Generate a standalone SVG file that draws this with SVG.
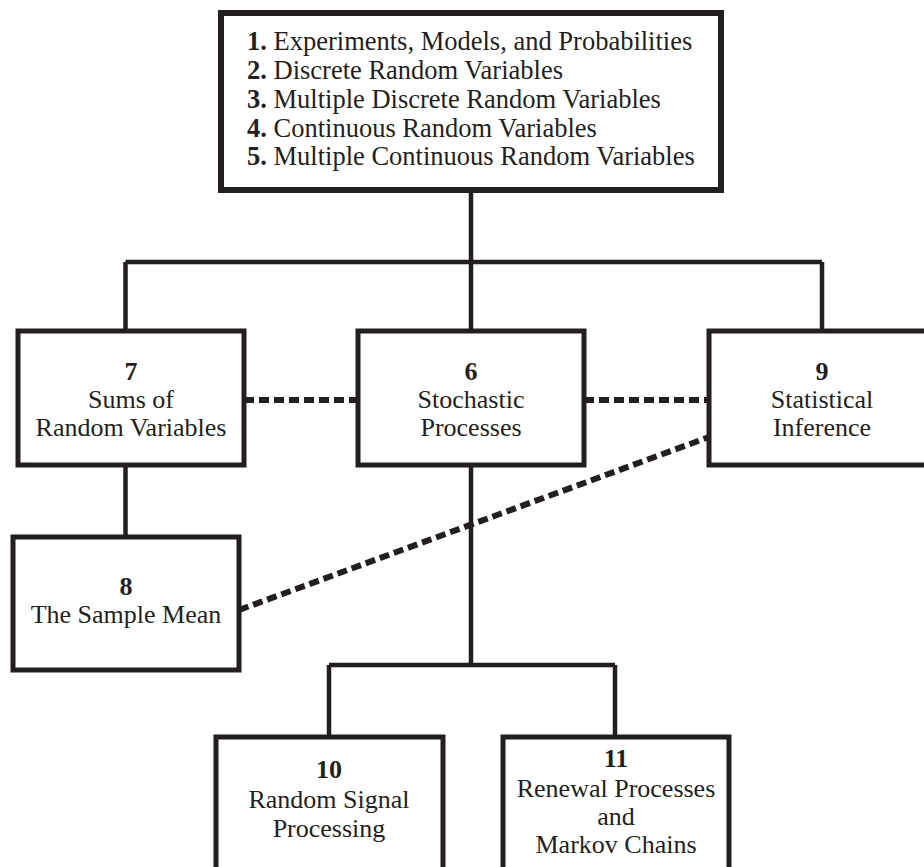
<svg xmlns="http://www.w3.org/2000/svg" width="924" height="867" viewBox="0 0 924 867">
<style>
.box{fill:#fff;stroke:#231f20;stroke-width:5}
.ln{fill:none;stroke:#231f20;stroke-width:4.5}
.dash{fill:none;stroke:#231f20;stroke-width:6;stroke-dasharray:10 5}
text{font-family:"Liberation Serif","Times New Roman",serif;font-size:26px;fill:#231f20}
.c{text-anchor:middle}
.b{font-weight:bold}
</style>
<rect width="924" height="867" fill="#fff"/>
<g id="connectors">
<path class="ln" d="M471 190V262M125.5 262H822M125.5 262V331M471 262V331M822 262V331"/>
<path class="ln" d="M125.5 465V537"/>
<path class="ln" d="M471 465V665M329 665H615M329 665V737M615 665V737"/>
<path class="dash" d="M244 400H358"/>
<path class="dash" d="M584 400H709"/>
<path class="dash" d="M239 610L709 437"/>
</g>
<g id="n1-5">
<rect class="box" x="221" y="13" width="500" height="177" style="stroke-width:6"/>
<text x="247" y="50" style="font-size:26.5px"><tspan class="b">1.</tspan> Experiments, Models, and Probabilities</text>
<text x="247" y="79" style="font-size:26.5px"><tspan class="b">2.</tspan> Discrete Random Variables</text>
<text x="247" y="108" style="font-size:26.5px"><tspan class="b">3.</tspan> Multiple Discrete Random Variables</text>
<text x="247" y="137" style="font-size:26.5px"><tspan class="b">4.</tspan> Continuous Random Variables</text>
<text x="247" y="165" style="font-size:26.5px"><tspan class="b">5.</tspan> Multiple Continuous Random Variables</text>
</g>
<g id="n7">
<rect class="box" x="18" y="331" width="226" height="134"/>
<text class="c b" x="131" y="380">7</text>
<text class="c" x="131" y="408">Sums of</text>
<text class="c" x="131" y="436">Random Variables</text>
</g>
<g id="n6">
<rect class="box" x="358" y="331" width="226" height="134"/>
<text class="c b" x="471" y="380">6</text>
<text class="c" x="471" y="408">Stochastic</text>
<text class="c" x="471" y="436">Processes</text>
</g>
<g id="n9">
<rect class="box" x="709" y="331" width="226" height="134"/>
<text class="c b" x="822" y="380">9</text>
<text class="c" x="822" y="408">Statistical</text>
<text class="c" x="822" y="436">Inference</text>
</g>
<g id="n8">
<rect class="box" x="13" y="537" width="226" height="133"/>
<text class="c b" x="126" y="595">8</text>
<text class="c" x="126" y="623">The Sample Mean</text>
</g>
<g id="n10">
<rect class="box" x="216" y="737" width="227" height="160"/>
<text class="c b" x="329" y="778">10</text>
<text class="c" x="329" y="808">Random Signal</text>
<text class="c" x="329" y="837">Processing</text>
</g>
<g id="n11">
<rect class="box" x="503" y="737" width="226" height="160"/>
<text class="c b" x="616" y="767">11</text>
<text class="c" x="616" y="797">Renewal Processes</text>
<text class="c" x="616" y="825">and</text>
<text class="c" x="616" y="853">Markov Chains</text>
</g>
</svg>
